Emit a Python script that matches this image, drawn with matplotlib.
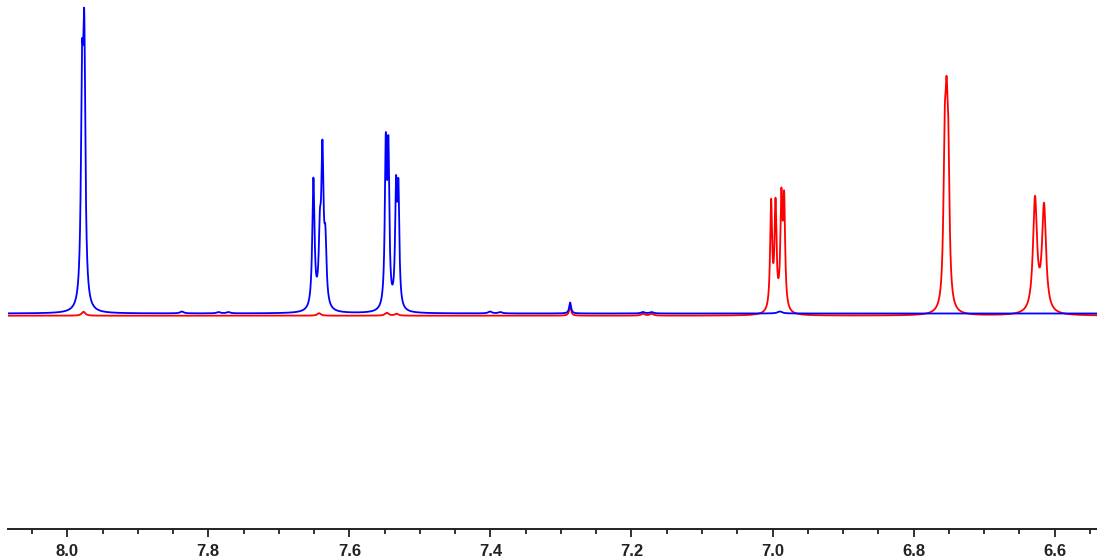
"""Overlay of two 1H NMR spectra (aromatic region), blue vs red trace."""
import matplotlib
matplotlib.use("Agg")
import matplotlib.pyplot as plt
import numpy as np
from matplotlib.ticker import FormatStrFormatter, MultipleLocator

# --- peak lists: shift (ppm), apex height, half width (ppm) ---
blue_shift = [7.9790, 7.9759, 7.6510, 7.6418, 7.6382, 7.6340,
              7.5484, 7.5447, 7.5338, 7.5305, 7.2870,
              7.8375, 7.7856, 7.7714, 7.4006, 7.3860, 7.1838, 7.1714, 6.9897]
blue_height = [270, 303, 136, 104, 174, 88,
               181, 178, 138, 135, 11,
               2.0, 1.5, 1.5, 2.0, 1.5, 1.5, 1.5, 2.0]
blue_width = [0.0019, 0.0019, 0.0019, 0.0019, 0.0019, 0.0019,
              0.0016, 0.0016, 0.0016, 0.0016, 0.0016,
              0.003, 0.003, 0.003, 0.003, 0.003, 0.003, 0.003, 0.004]

red_shift = [7.0020, 6.9958, 6.9875, 6.9836,
             6.7560, 6.7534, 6.7509,
             6.6279, 6.6151,
             7.2870, 7.9770, 7.6430, 7.5470, 7.5330, 7.1838, 7.1714]
red_height = [117, 118, 128, 125,
              205, 240, 200,
              120, 113,
              10, 4, 2.5, 3, 2, 2, 2]
red_width = [0.0017, 0.0017, 0.0017, 0.0017,
             0.0021, 0.0021, 0.0021,
             0.0034, 0.0034,
             0.0016, 0.003, 0.003, 0.003, 0.003, 0.003, 0.003]

blue_base = 1.5
red_base = -0.7

x_left, x_right = 8.084, 6.540


def lorentz(x, x0, w):
    return 1.0 / (1.0 + ((x - x0) / w) ** 2)


def build_trace(ppm, shifts, heights, widths, base):
    # solve for line amplitudes so the summed curve passes through the read apexes
    s = np.asarray(shifts)
    w = np.asarray(widths)
    A = lorentz(s[:, None], s[None, :], w[None, :])
    amps = np.linalg.solve(A, np.asarray(heights, dtype=float))
    amps = np.clip(amps, 0, None)
    y = np.full_like(ppm, base)
    for a, x0, wi in zip(amps, s, w):
        y += a * lorentz(ppm, x0, wi)
    return y


ppm = np.linspace(x_left, x_right, 24000)
blue = build_trace(ppm, blue_shift, blue_height, blue_width, blue_base)
red = build_trace(ppm, red_shift, red_height, red_width, red_base)

fig = plt.figure(figsize=(10.97, 5.58), dpi=100)
ax = fig.add_axes([8 / 1097, 29 / 558, 1089 / 1097, 529 / 558])
ax.plot(ppm, red, color="#ff0000", lw=1.3)
ax.plot(ppm, blue, color="#0000ff", lw=1.3)

ax.set_xlim(x_left, x_right)
ax.set_ylim(-214, 315)
for side in ("left", "top", "right"):
    ax.spines[side].set_visible(False)
ax.spines["bottom"].set_linewidth(1.4)
ax.spines["bottom"].set_color("#222222")
ax.set_yticks([])
ax.xaxis.set_major_locator(MultipleLocator(0.2))
ax.xaxis.set_minor_locator(MultipleLocator(0.05))
ax.xaxis.set_major_formatter(FormatStrFormatter("%.1f"))
ax.tick_params(axis="x", which="major", direction="out", length=6, width=1.3,
               color="#222222", pad=5)
ax.tick_params(axis="x", which="minor", direction="out", length=3.3, width=1.3,
               color="#222222")
for lbl in ax.get_xticklabels():
    lbl.set_fontfamily("Liberation Sans")
    lbl.set_fontweight("bold")
    lbl.set_fontsize(12)
    lbl.set_color("#222222")

fig.savefig("out.png", dpi=100)
plt.close(fig)
